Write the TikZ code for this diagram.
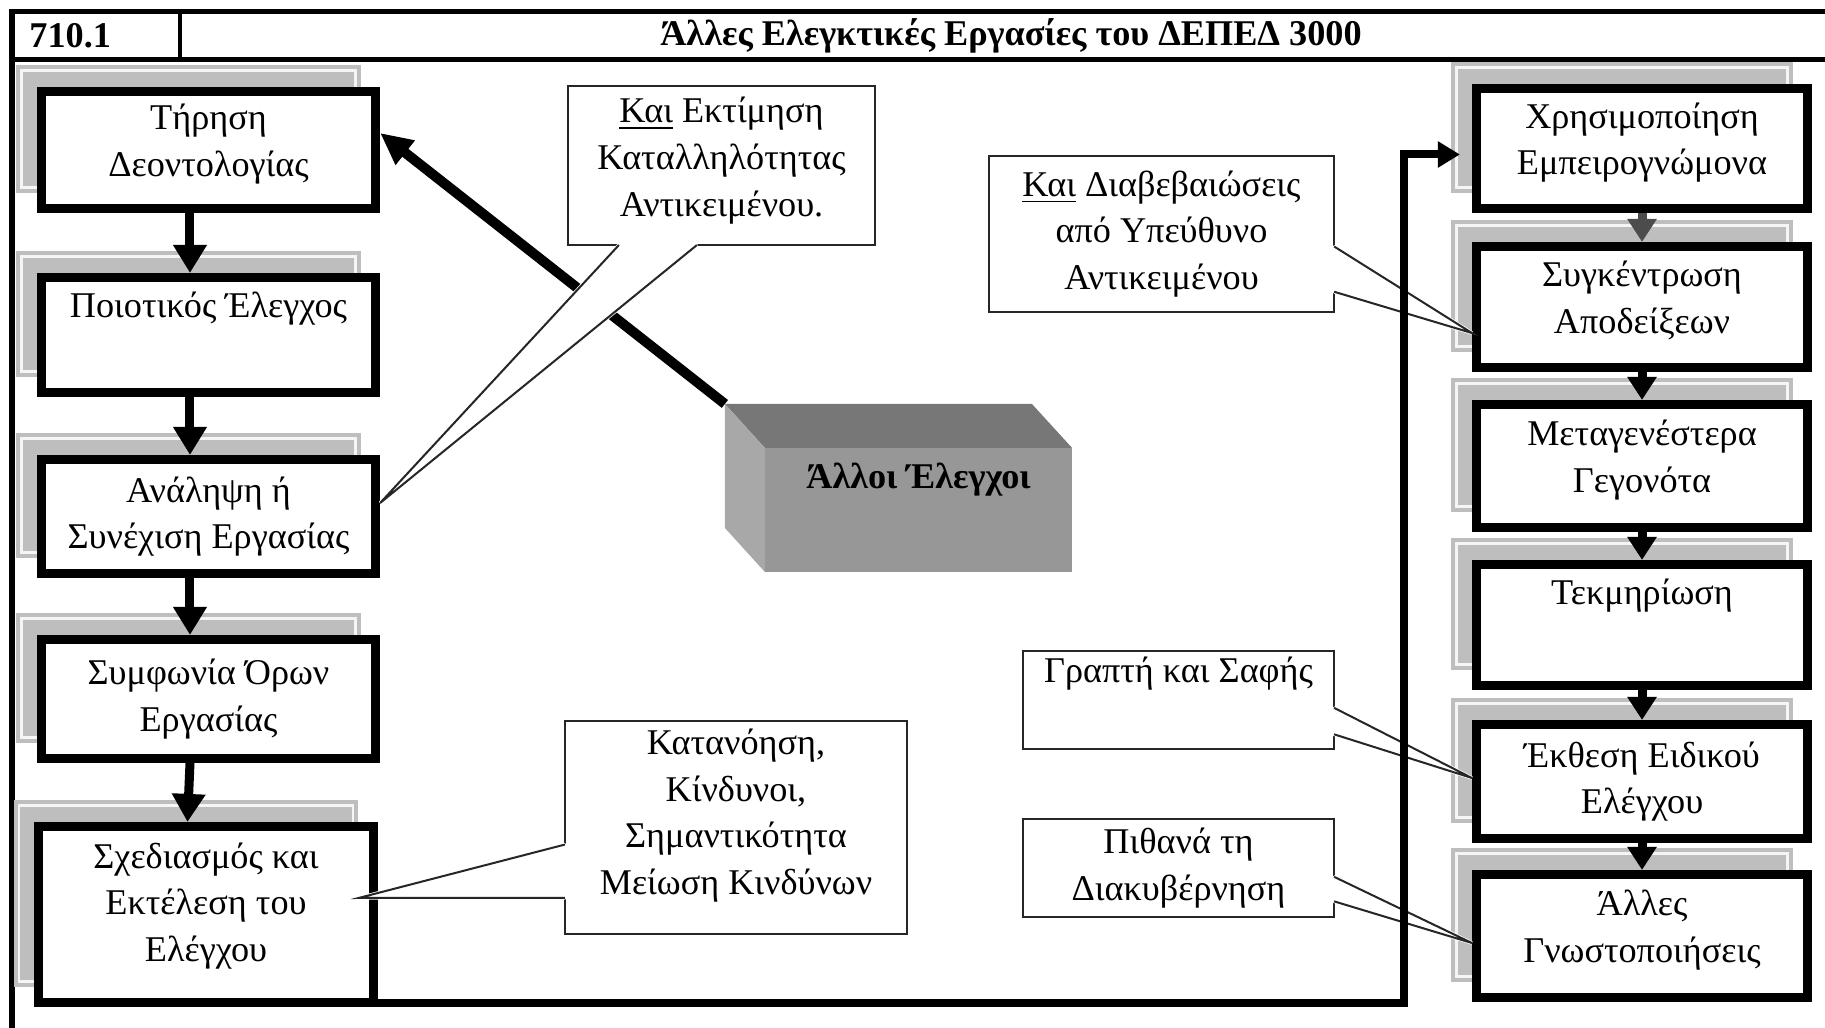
\documentclass[tikz,border=0pt]{standalone}
\usepackage{fontspec}
\setmainfont{Liberation Serif}
\usepackage{tikz}
\usetikzlibrary{arrows.meta, shadows, calc}
\definecolor{shade}{HTML}{BEBEBE}
\definecolor{cubetop}{HTML}{777777}
\definecolor{cubefront}{HTML}{979797}
\definecolor{cubeside}{HTML}{A8A8A8}
\newcommand{\boxfont}{\fontsize{10.3}{13.3}\selectfont}

\begin{document}
\begin{tikzpicture}[
  x=0.01cm, y=-0.01cm,
  stage/.style={draw, line width=0.9mm, fill=white, minimum width=3.34cm,
                inner sep=0pt, align=center, font=\boxfont,
                general shadow={fill=shade, draw=shade, double=white!85!shade,
                                double distance=0.25mm, line width=0.4mm,
                                shadow xshift=-2mm, shadow yshift=2.1mm}},
  stager/.style={stage, minimum width=3.31cm},
  lift/.style={execute at end node={\rule[-5.5pt]{0pt}{0pt}}},
  note/.style={draw=black!85, line width=0.2mm, fill=white, inner sep=0pt,
               outer sep=0pt, align=center, font=\boxfont},
  tail/.style={draw=black!85, line width=0.2mm},
  tailgap/.style={fill=white, draw=white, line width=0.35mm, line join=bevel},
  flow/.style={line width=0.9mm, -{Triangle[length=2.8mm, width=3.2mm]}},
  flowr/.style={line width=0.9mm, -{Triangle[length=2.3mm, width=2.8mm]}},
  cube/.style={fill=cubefront, minimum width=3.07cm, minimum height=1.24cm,
               inner sep=0pt, outer sep=0pt, font=\boxfont\bfseries,
               text height=0.3cm, text depth=0.72cm},
  frame/.style={line width=0.5mm},
  head/.style={font=\boxfont\bfseries},
]
\useasboundingbox (0,0) rectangle (1825,1028);

\draw[frame] (12,1028) -- (12,12) -- (1825,12);
\draw[frame] (12,60) -- (1825,60);
\draw[line width=0.4mm] (180,12) -- (180,60);
\node[head, anchor=west] (num) at (17,36) {710.1};
\node[head] (title) at (1011,36) {Άλλες Ελεγκτικές Εργασίες του ΔΕΠΕΔ 3000};

\node[stage, lift, minimum height=1.17cm] (tirisi) at (208.5,150) {Τήρηση\\Δεοντολογίας};
\node[stage, minimum height=1.15cm] (poiot) at (208.5,335) {Ποιοτικός Έλεγχος\\ \strut};
\node[stage, minimum height=1.14cm] (anal) at (208.5,516.5) {Ανάληψη ή\\Συνέχιση Εργασίας};
\node[stage, minimum height=1.19cm] (symf) at (208.5,699) {Συμφωνία Όρων\\Εργασίας};
\node[stage, minimum height=1.76cm] (sxed) at (206,914.5)
  {Σχεδιασμός και\\Εκτέλεση του\\Ελέγχου\rule[-7pt]{0pt}{0pt}};

\node[stager, lift, minimum height=1.20cm] (xrisi) at (1642,148.5) {Χρησιμοποίηση\\Εμπειρογνώμονα};
\node[stager, lift, minimum height=1.21cm] (sygk) at (1642,307) {Συγκέντρωση\\Αποδείξεων};
\node[stager, lift, minimum height=1.23cm] (metag) at (1642,466) {Μεταγενέστερα\\Γεγονότα};
\node[stager, lift, minimum height=1.21cm] (tekm) at (1642,625) {Τεκμηρίωση\\ \strut};
\node[stager, minimum height=1.14cm] (ekth) at (1642,781.5) {Έκθεση Ειδικού\\Ελέγχου};
\node[stager, lift, minimum height=1.23cm] (allesg) at (1642,936) {Άλλες\\Γνωστοποιήσεις};

\draw[flow] ([xshift=-1.85mm]tirisi.south) -- ([xshift=-1.85mm]poiot.north);
\draw[flow] ([xshift=-1.85mm]poiot.south) -- ([xshift=-1.85mm]anal.north);
\draw[flow] ([xshift=-1.85mm]anal.south) -- ([xshift=-1.85mm]symf.north);
\draw[flow] ([xshift=-1.85mm]symf.south) -- ([xshift=-1.85mm]sxed.north);

\draw[flowr, black!70] (xrisi.south) -- (sygk.north);
\draw[flowr] (sygk.south) -- (metag.north);
\draw[flowr] (metag.south) -- (tekm.north);
\draw[flowr] (tekm.south) -- (ekth.north);
\draw[flowr] (ekth.south) -- (allesg.north);

\node[cube] (alloi) at (918.5,510) {Άλλοι Έλεγχοι};
\coordinate (cubeback) at ([xshift=-4mm, yshift=4.4mm]alloi.north west);
\fill[cubetop] (alloi.north west) -- (cubeback) -- ++(307,0) -- (alloi.north east) -- cycle;
\fill[cubeside] (alloi.north west) -- (cubeback) -- ++(0,124) -- (alloi.south west) -- cycle;

\draw[line width=1mm, -{Triangle[length=3.2mm, width=2.9mm]}]
  (cubeback) -- ([yshift=1.7mm]tirisi.east);

\node[note, minimum width=3.07cm, minimum height=1.59cm] (kaiA) at (721.5,165.5)
  {\underline{Και} Εκτίμηση\\Καταλληλότητας\\Αντικειμένου.\rule[-5pt]{0pt}{0pt}};
\node[note, minimum width=3.45cm, minimum height=1.56cm] (kaiB) at (1161.5,234)
  {\underline{Και} Διαβεβαιώσεις\\από Υπεύθυνο\\Αντικειμένου};
\node[note, minimum width=3.42cm, minimum height=2.13cm] (katan) at (736,827.5)
  {Κατανόηση,\\Κίνδυνοι,\\Σημαντικότητα\\Μείωση Κινδύνων\rule[-9pt]{0pt}{0pt}};
\node[note, minimum width=3.11cm, minimum height=0.98cm] (grapti) at (1178.5,700)
  {Γραπτή και Σαφής\\ \strut};
\node[note, minimum width=3.11cm, minimum height=0.98cm] (pithana) at (1178.5,868)
  {Πιθανά τη\\Διακυβέρνηση};

\coordinate (tipA) at ([yshift=1.35mm]anal.east);
\coordinate (a1) at ($(kaiA.south west)!0.166!(kaiA.south east)$);
\coordinate (a2) at ($(kaiA.south west)!0.42!(kaiA.south east)$);
\filldraw[tailgap] (a1) -- (tipA) -- (a2) -- cycle;
\draw[tail] (a1) -- (tipA) -- (a2);

\coordinate (tipB) at ([yshift=-2.6mm]sygk.west);
\coordinate (b1) at ($(kaiB.north east)!0.58!(kaiB.south east)$);
\coordinate (b2) at ($(kaiB.north east)!0.87!(kaiB.south east)$);
\filldraw[tailgap] (b1) -- (tipB) -- (b2) -- cycle;
\draw[tail] (b1) -- (tipB) -- (b2);

\coordinate (tipC) at ([xshift=-1.9mm, yshift=1.65mm]sxed.east);
\coordinate (c1) at ($(katan.north west)!0.58!(katan.south west)$);
\coordinate (c2) at ($(katan.north west)!0.83!(katan.south west)$);
\filldraw[tailgap] (c1) -- (tipC) -- (c2) -- cycle;
\draw[tail] (c1) -- (tipC) -- (c2);

\coordinate (tipD) at ([yshift=0.35mm]ekth.west);
\coordinate (d1) at ($(grapti.north east)!0.58!(grapti.south east)$);
\coordinate (d2) at ($(grapti.north east)!0.85!(grapti.south east)$);
\filldraw[tailgap] (d1) -- (tipD) -- (d2) -- cycle;
\draw[tail] (d1) -- (tipD) -- (d2);

\coordinate (tipE) at ([yshift=-0.7mm]allesg.west);
\coordinate (e1) at ($(pithana.north east)!0.59!(pithana.south east)$);
\coordinate (e2) at ($(pithana.north east)!0.84!(pithana.south east)$);
\filldraw[tailgap] (e1) -- (tipE) -- (e2) -- cycle;
\draw[tail] (e1) -- (tipE) -- (e2);

\coordinate (fbc) at (1404,1003);
\draw[line width=0.8mm, -{Triangle[length=2.2mm, width=2.5mm]}]
  (sxed.south east |- fbc) -- (fbc) |- ([xshift=-1.2mm, yshift=-0.6mm]xrisi.west);

\end{tikzpicture}
\end{document}
